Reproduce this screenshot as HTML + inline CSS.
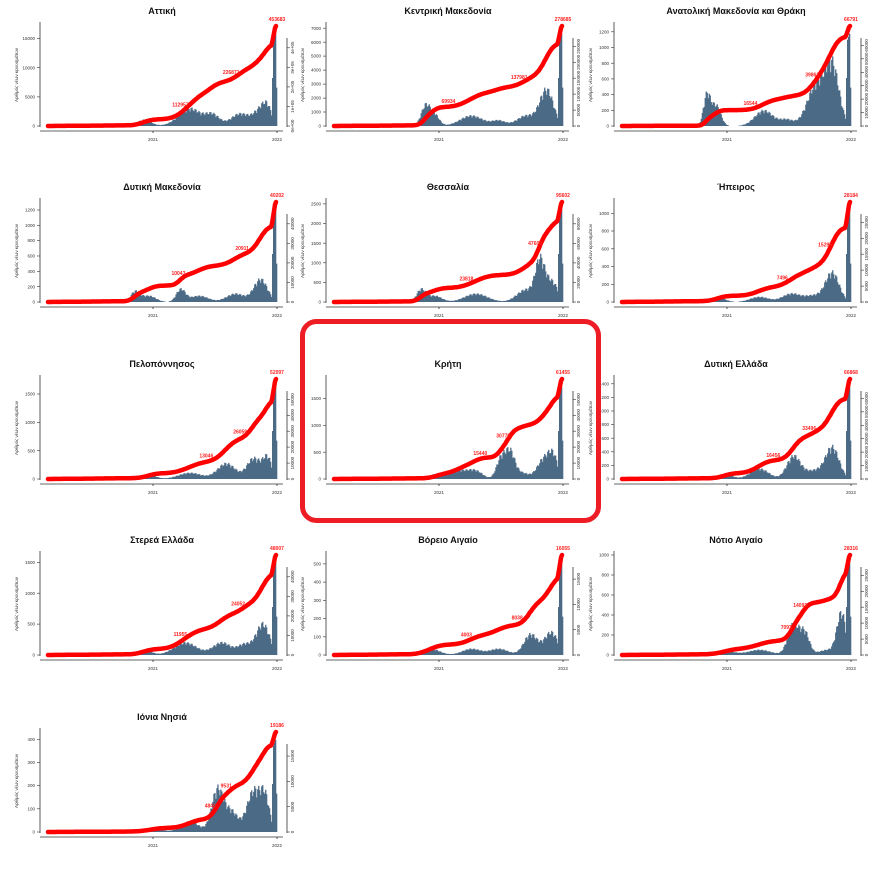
<!DOCTYPE html>
<html><head><meta charset="utf-8">
<style>
html,body{margin:0;padding:0;background:#fff;}
svg{display:block;font-family:"Liberation Sans",sans-serif;}
</style></head>
<body>
<svg id="s" width="885" height="869" viewBox="0 0 885 869" xmlns="http://www.w3.org/2000/svg"></svg>
<script>
const R=[
 {n:"Αττική",end:"453683",m:["112957",0.6,"226871",0.82],lt:[0,5000,10000,15000],lmax:17500,rt:["0e+00","1e+05","2e+05","3e+05","4e+05"],
  g:[[0.42,0.03,0.06],[0.62,0.05,0.17],[0.72,0.03,0.1],[0.84,0.04,0.12],[0.93,0.03,0.15],[0.96,0.02,0.13]]},
 {n:"Κεντρική Μακεδονία",end:"278685",m:["69934",0.52,"137981",0.83],lt:[0,1000,2000,3000,4000,5000,6000,7000],lmax:7300,rt:["0","50000","100000","150000","200000","250000"],
  g:[[0.4,0.02,0.2],[0.44,0.02,0.1],[0.6,0.05,0.1],[0.72,0.03,0.05],[0.84,0.04,0.1],[0.93,0.03,0.35]]},
 {n:"Ανατολική Μακεδονία και Θράκη",end:"66791",m:["16544",0.58,"39861",0.85],lt:[0,200,400,600,800,1000,1200],lmax:1300,rt:["0","10000","20000","30000","40000","50000","60000"],
  g:[[0.37,0.015,0.3],[0.41,0.02,0.2],[0.62,0.04,0.15],[0.72,0.03,0.06],[0.85,0.04,0.4],[0.92,0.03,0.55]]},
 {n:"Δυτική Μακεδονία",end:"40202",m:["10043",0.59,"20911",0.87],lt:[0,200,400,600,800,1000,1200],lmax:1330,rt:["0","10000","20000","30000","40000"],
  g:[[0.38,0.02,0.1],[0.44,0.03,0.06],[0.58,0.02,0.12],[0.66,0.04,0.06],[0.82,0.04,0.08],[0.93,0.03,0.22]]},
 {n:"Θεσσαλία",end:"95602",m:["23818",0.6,"47609",0.9],lt:[0,500,1000,1500,2000,2500],lmax:2600,rt:["0","20000","40000","60000","80000"],
  g:[[0.38,0.02,0.12],[0.44,0.03,0.06],[0.62,0.05,0.08],[0.84,0.04,0.12],[0.9,0.02,0.35],[0.95,0.03,0.2]]},
 {n:"Ήπειρος",end:"28184",m:["7496",0.72,"15295",0.91],lt:[0,200,400,600,800,1000],lmax:1150,rt:["0","5000","10000","15000","20000","25000"],
  g:[[0.42,0.03,0.04],[0.6,0.04,0.05],[0.74,0.04,0.08],[0.84,0.04,0.06],[0.92,0.03,0.28]]},
 {n:"Πελοπόννησος",end:"52097",m:["13046",0.71,"26059",0.86],lt:[0,500,1000,1500],lmax:1800,rt:["0","10000","20000","30000","40000","50000"],
  g:[[0.06,0.005,0.08],[0.44,0.03,0.04],[0.62,0.05,0.06],[0.78,0.04,0.15],[0.9,0.03,0.2],[0.96,0.02,0.2]]},
 {n:"Κρήτη",end:"61455",m:["15440",0.66,"30770",0.76],lt:[0,500,1000,1500],lmax:1900,rt:["0","10000","20000","30000","40000","50000"],
  g:[[0.45,0.03,0.05],[0.55,0.04,0.08],[0.62,0.03,0.07],[0.73,0.02,0.2],[0.77,0.02,0.25],[0.82,0.03,0.06],[0.92,0.03,0.2],[0.96,0.02,0.18]]},
 {n:"Δυτική Ελλάδα",end:"66868",m:["16456",0.68,"33496",0.84],lt:[0,200,400,600,800,1000,1200,1400],lmax:1500,rt:["0","10000","20000","30000","40000","50000","60000"],
  g:[[0.45,0.03,0.05],[0.6,0.04,0.1],[0.75,0.03,0.22],[0.84,0.04,0.08],[0.92,0.03,0.3]]},
 {n:"Στερεά Ελλάδα",end:"48007",m:["11955",0.6,"24052",0.85],lt:[0,500,1000,1500],lmax:1650,rt:["0","10000","20000","30000","40000"],
  g:[[0.42,0.03,0.05],[0.6,0.05,0.12],[0.76,0.04,0.12],[0.86,0.03,0.1],[0.94,0.03,0.3]]},
 {n:"Βόρειο Αιγαίο",end:"16055",m:["4003",0.6,"8038",0.82],lt:[0,100,200,300,400,500],lmax:560,rt:["0","5000","10000","15000"],
  g:[[0.28,0.004,0.2],[0.42,0.04,0.06],[0.6,0.04,0.06],[0.72,0.04,0.06],[0.86,0.03,0.2],[0.95,0.03,0.22]]},
 {n:"Νότιο Αιγαίο",end:"28316",m:["7093",0.74,"14093",0.8],lt:[0,200,400,600,800,1000],lmax:1020,rt:["0","5000","10000","15000","20000","25000"],
  g:[[0.45,0.04,0.04],[0.6,0.05,0.05],[0.75,0.025,0.3],[0.8,0.02,0.2],[0.9,0.04,0.05],[0.96,0.02,0.4]]},
 {n:"Ιόνια Νησιά",end:"19186",m:["4840",0.73,"9531",0.8],lt:[0,100,200,300,400],lmax:440,rt:["0","5000","10000","15000"],
  g:[[0.45,0.04,0.04],[0.62,0.04,0.1],[0.74,0.025,0.4],[0.8,0.03,0.2],[0.9,0.03,0.4],[0.95,0.02,0.3]]}
];
const COL=[0,286,574], ROW=[0,176,353,529,706];
let h='';
R.forEach((r,i)=>{
  const ox=COL[i%3], oy=ROW[Math.floor(i/3)];
  const X0=ox+48,X1=ox+277,B=oy+126,T=oy+24;
  const N=230, vals=[];
  for(let k=0;k<N;k++){const t=k/(N-1);let v=0;
    if(t>0.33) r.g.forEach(g=>{v+=g[2]*Math.exp(-((t-g[0])**2)/(2*g[1]*g[1]));});
    v*=0.85+0.3*Math.abs(Math.sin(k*2.3));
    if(k>=N-4&&k<N-1) v=0.9+0.03*(k-N+4); if(k==N-1) v=0.4;
    if(k==N-5) v=0.5;
    vals.push(Math.min(v,1));}
  // bars
  const bw=(X1-X0)/N;
  let bp='';
  vals.forEach((v,k)=>{if(v>0.004){const x=X0+k*bw,hh=v*(B-T-6);bp+=`M${x.toFixed(1)} ${B}v${-hh.toFixed(1)}h${(bw+0.3).toFixed(2)}v${hh.toFixed(1)}z`;}});
  h+=`<path d="${bp}" fill="#4b6a86"/>`;
  // cumulative
  let c=0,cs=[];vals.forEach(v=>{c+=v+0.0015;cs.push(c);});
  let pts=cs.map((v,k)=>`${(X0+k*bw).toFixed(1)},${(B-v/c*(B-T-2)).toFixed(1)}`).join(' ');
  h+=`<polyline points="${pts}" fill="none" stroke="#ff0000" stroke-width="4.5" stroke-linejoin="round" stroke-linecap="round"/>`;
  // labels on curve
  const lab=(txt,t)=>{const k=Math.round(t*(N-1));const y=B-cs[k]/c*(B-T-2);return `<text x="${X0+k*bw-4}" y="${y-3}" font-size="5" fill="#ff2020" font-weight="bold" text-anchor="middle">${txt}</text>`;};
  h+=lab(r.m[0],r.m[1])+lab(r.m[2],r.m[3]);
  h+=`<text x="${X1}" y="${T-3}" font-size="5" fill="#ff2020" font-weight="bold" text-anchor="middle">${r.end}</text>`;
  // title
  h+=`<text x="${ox+162}" y="${oy+14}" font-size="9" font-weight="bold" text-anchor="middle" fill="#111">${r.n}</text>`;
  // axes
  h+=`<path d="M${ox+40} ${oy+22}V${B+1}M${ox+40} ${oy+131}H${ox+283}M${ox+153} ${oy+131}v2M${ox+277} ${oy+131}v2M${ox+287} ${oy+38}V${B+1}" stroke="#333" stroke-width="0.8" fill="none"/>`;
  h+=`<text x="${ox+153}" y="${oy+141}" font-size="4.5" text-anchor="middle" fill="#333">2021</text><text x="${ox+277}" y="${oy+141}" font-size="4.5" text-anchor="middle" fill="#333">2022</text>`;
  r.lt.forEach(v=>{const y=B-v/r.lmax*(B-T);h+=`<path d="M${ox+37} ${y.toFixed(1)}h3" stroke="#333" stroke-width="0.6"/><text x="${ox+35}" y="${(y+1.6).toFixed(1)}" font-size="4.5" text-anchor="end" fill="#333">${v}</text>`;});
  const nr=r.rt.length;
  r.rt.forEach((v,j)=>{const y=B-j*(B-(oy+40))/(nr-0.6);h+=`<path d="M${ox+287} ${y.toFixed(1)}h3" stroke="#333" stroke-width="0.6"/><text transform="translate(${ox+294},${y.toFixed(1)}) rotate(-90)" font-size="4.5" text-anchor="middle" fill="#333">${v}</text>`;});
  h+=`<text transform="translate(${ox+18},${oy+75}) rotate(-90)" font-size="4.5" text-anchor="middle" fill="#333">Αριθμός νέων κρουσμάτων</text>`;
});
h+=`<rect x="302.5" y="321.5" width="296" height="199" rx="14" fill="none" stroke="#ee1c25" stroke-width="5"/>`;
document.getElementById('s').innerHTML=h;
</script>
</body></html>
